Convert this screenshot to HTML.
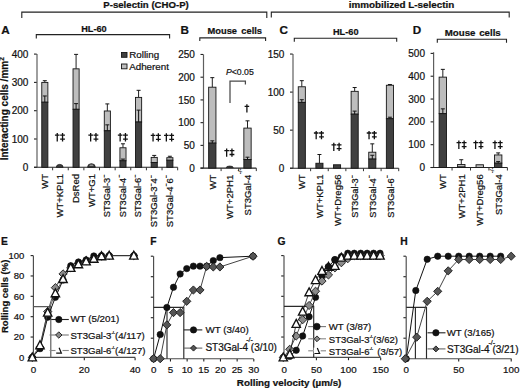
<!DOCTYPE html>
<html><head><meta charset="utf-8"><style>
html,body{margin:0;padding:0;background:#fff;overflow:hidden}
svg{display:block;font-family:"Liberation Sans", sans-serif}
text{stroke:#111;stroke-width:0.22px;paint-order:stroke}
</style></head><body>
<svg width="520" height="390" viewBox="0 0 520 390">
<rect width="520" height="390" fill="#fff"/>
<text x="103.30" y="7.90" font-size="9.3" text-anchor="start" fill="#111" font-weight="bold" textLength="85.5" lengthAdjust="spacingAndGlyphs">P-selectin (CHO-P)</text>
<polyline points="21.80,18.10 21.80,12.10 266.80,12.10 266.80,18.10" fill="none" stroke="#222" stroke-width="1.1"/>
<text x="348.70" y="7.90" font-size="9.3" text-anchor="start" fill="#111" font-weight="bold" textLength="105.5" lengthAdjust="spacingAndGlyphs">immobilized L-selectin</text>
<polyline points="271.30,17.60 271.30,12.10 509.20,12.10 509.20,17.60" fill="none" stroke="#222" stroke-width="1.1"/>
<text x="1.20" y="33.60" font-size="11.7" text-anchor="start" fill="#111" font-weight="bold">A</text>
<text x="180.60" y="33.60" font-size="11.7" text-anchor="start" fill="#111" font-weight="bold">B</text>
<text x="279.40" y="33.60" font-size="11.7" text-anchor="start" fill="#111" font-weight="bold">C</text>
<text x="412.80" y="33.60" font-size="11.7" text-anchor="start" fill="#111" font-weight="bold">D</text>
<text x="1.00" y="244.80" font-size="10.3" text-anchor="start" fill="#111" font-weight="bold">E</text>
<text x="150.20" y="244.80" font-size="10.3" text-anchor="start" fill="#111" font-weight="bold">F</text>
<text x="277.40" y="244.80" font-size="10.3" text-anchor="start" fill="#111" font-weight="bold">G</text>
<text x="400.30" y="244.80" font-size="10.3" text-anchor="start" fill="#111" font-weight="bold">H</text>
<text x="81.20" y="31.50" font-size="9.3" text-anchor="start" fill="#111" font-weight="bold" textLength="25.5" lengthAdjust="spacingAndGlyphs">HL-60</text>
<polyline points="36.30,38.60 36.30,34.60 169.60,34.60 169.60,38.60" fill="none" stroke="#222" stroke-width="1.1"/>
<text x="207.60" y="33.70" font-size="9.3" text-anchor="start" fill="#111" font-weight="bold" style="word-spacing:1.7px">Mouse cells</text>
<polyline points="199.80,40.90 199.80,37.90 265.60,37.90 265.60,40.90" fill="none" stroke="#222" stroke-width="1.1"/>
<text x="333.00" y="35.10" font-size="9.3" text-anchor="start" fill="#111" font-weight="bold" textLength="25.5" lengthAdjust="spacingAndGlyphs">HL-60</text>
<polyline points="294.30,41.80 294.30,38.30 396.70,38.30 396.70,41.80" fill="none" stroke="#222" stroke-width="1.1"/>
<text x="444.80" y="35.80" font-size="9.7" text-anchor="start" fill="#111" font-weight="bold" style="word-spacing:1.0px">Mouse cells</text>
<polyline points="437.30,42.70 437.30,39.20 506.50,39.20 506.50,42.70" fill="none" stroke="#222" stroke-width="1.1"/>
<line x1="37.00" y1="54.00" x2="37.00" y2="167.30" stroke="#5e5e5e" stroke-width="1.2"/>
<line x1="34.00" y1="167.30" x2="36.70" y2="167.30" stroke="#222" stroke-width="1.1"/>
<text x="28.40" y="170.90" font-size="10" text-anchor="end" fill="#111">0</text>
<line x1="34.00" y1="139.00" x2="36.70" y2="139.00" stroke="#222" stroke-width="1.1"/>
<text x="28.40" y="142.60" font-size="10" text-anchor="end" fill="#111">100</text>
<line x1="34.00" y1="110.70" x2="36.70" y2="110.70" stroke="#222" stroke-width="1.1"/>
<text x="28.40" y="114.30" font-size="10" text-anchor="end" fill="#111">200</text>
<line x1="34.00" y1="82.40" x2="36.70" y2="82.40" stroke="#222" stroke-width="1.1"/>
<text x="28.40" y="86.00" font-size="10" text-anchor="end" fill="#111">300</text>
<line x1="34.00" y1="54.10" x2="36.70" y2="54.10" stroke="#222" stroke-width="1.1"/>
<text x="28.40" y="57.70" font-size="10" text-anchor="end" fill="#111">400</text>
<line x1="34.00" y1="167.30" x2="177.67" y2="167.30" stroke="#222" stroke-width="1.1"/>
<line x1="52.63" y1="167.30" x2="52.63" y2="170.30" stroke="#333" stroke-width="1.0"/>
<line x1="68.26" y1="167.30" x2="68.26" y2="170.30" stroke="#333" stroke-width="1.0"/>
<line x1="83.89" y1="167.30" x2="83.89" y2="170.30" stroke="#333" stroke-width="1.0"/>
<line x1="99.52" y1="167.30" x2="99.52" y2="170.30" stroke="#333" stroke-width="1.0"/>
<line x1="115.15" y1="167.30" x2="115.15" y2="170.30" stroke="#333" stroke-width="1.0"/>
<line x1="130.78" y1="167.30" x2="130.78" y2="170.30" stroke="#333" stroke-width="1.0"/>
<line x1="146.41" y1="167.30" x2="146.41" y2="170.30" stroke="#333" stroke-width="1.0"/>
<line x1="162.04" y1="167.30" x2="162.04" y2="170.30" stroke="#333" stroke-width="1.0"/>
<line x1="177.67" y1="167.30" x2="177.67" y2="170.30" stroke="#333" stroke-width="1.0"/>
<line x1="44.81" y1="80.70" x2="44.81" y2="82.40" stroke="#151515" stroke-width="0.95"/>
<line x1="42.81" y1="80.70" x2="46.81" y2="80.70" stroke="#151515" stroke-width="1.0"/>
<rect x="41.77" y="82.40" width="6.1" height="19.81" fill="#bdbdbd" stroke="#151515" stroke-width="0.9"/>
<rect x="41.77" y="102.21" width="6.1" height="65.09" fill="#404040" stroke="#151515" stroke-width="0.9"/>
<line x1="44.81" y1="95.98" x2="44.81" y2="102.21" stroke="#151515" stroke-width="1.0"/>
<line x1="42.81" y1="95.98" x2="46.81" y2="95.98" stroke="#151515" stroke-width="1.0"/>
<line x1="76.08" y1="54.38" x2="76.08" y2="68.82" stroke="#151515" stroke-width="0.95"/>
<line x1="74.08" y1="54.38" x2="78.08" y2="54.38" stroke="#151515" stroke-width="1.0"/>
<rect x="73.03" y="68.82" width="6.1" height="40.47" fill="#bdbdbd" stroke="#151515" stroke-width="0.9"/>
<rect x="73.03" y="109.29" width="6.1" height="58.01" fill="#404040" stroke="#151515" stroke-width="0.9"/>
<line x1="76.08" y1="103.63" x2="76.08" y2="109.29" stroke="#151515" stroke-width="1.0"/>
<line x1="74.08" y1="103.63" x2="78.08" y2="103.63" stroke="#151515" stroke-width="1.0"/>
<line x1="107.34" y1="103.91" x2="107.34" y2="110.98" stroke="#151515" stroke-width="0.95"/>
<line x1="105.34" y1="103.91" x2="109.34" y2="103.91" stroke="#151515" stroke-width="1.0"/>
<rect x="104.29" y="110.98" width="6.1" height="19.81" fill="#bdbdbd" stroke="#151515" stroke-width="0.9"/>
<rect x="104.29" y="130.79" width="6.1" height="36.51" fill="#404040" stroke="#151515" stroke-width="0.9"/>
<line x1="107.34" y1="124.85" x2="107.34" y2="130.79" stroke="#151515" stroke-width="1.0"/>
<line x1="105.34" y1="124.85" x2="109.34" y2="124.85" stroke="#151515" stroke-width="1.0"/>
<line x1="122.97" y1="143.81" x2="122.97" y2="147.77" stroke="#151515" stroke-width="0.95"/>
<line x1="120.97" y1="143.81" x2="124.97" y2="143.81" stroke="#151515" stroke-width="1.0"/>
<rect x="119.92" y="147.77" width="6.1" height="13.02" fill="#bdbdbd" stroke="#151515" stroke-width="0.9"/>
<rect x="119.92" y="160.79" width="6.1" height="6.51" fill="#404040" stroke="#151515" stroke-width="0.9"/>
<line x1="122.97" y1="159.09" x2="122.97" y2="160.79" stroke="#151515" stroke-width="1.0"/>
<line x1="120.97" y1="159.09" x2="124.97" y2="159.09" stroke="#151515" stroke-width="1.0"/>
<line x1="138.59" y1="90.32" x2="138.59" y2="97.40" stroke="#151515" stroke-width="0.95"/>
<line x1="136.59" y1="90.32" x2="140.59" y2="90.32" stroke="#151515" stroke-width="1.0"/>
<rect x="135.54" y="97.40" width="6.1" height="24.62" fill="#bdbdbd" stroke="#151515" stroke-width="0.9"/>
<rect x="135.54" y="122.02" width="6.1" height="45.28" fill="#404040" stroke="#151515" stroke-width="0.9"/>
<line x1="138.59" y1="110.13" x2="138.59" y2="122.02" stroke="#151515" stroke-width="1.0"/>
<line x1="136.59" y1="110.13" x2="140.59" y2="110.13" stroke="#151515" stroke-width="1.0"/>
<line x1="154.23" y1="155.41" x2="154.23" y2="157.40" stroke="#151515" stroke-width="0.95"/>
<line x1="152.23" y1="155.41" x2="156.23" y2="155.41" stroke="#151515" stroke-width="1.0"/>
<rect x="151.18" y="157.40" width="6.1" height="5.09" fill="#bdbdbd" stroke="#151515" stroke-width="0.9"/>
<rect x="151.18" y="162.49" width="6.1" height="4.81" fill="#404040" stroke="#151515" stroke-width="0.9"/>
<line x1="169.86" y1="156.26" x2="169.86" y2="157.68" stroke="#151515" stroke-width="0.95"/>
<line x1="167.86" y1="156.26" x2="171.86" y2="156.26" stroke="#151515" stroke-width="1.0"/>
<rect x="166.81" y="157.68" width="6.1" height="2.55" fill="#bdbdbd" stroke="#151515" stroke-width="0.9"/>
<rect x="166.81" y="160.23" width="6.1" height="7.07" fill="#404040" stroke="#151515" stroke-width="0.9"/>
<text x="47.71" y="174.00" font-size="9.5" text-anchor="end" fill="#111" transform="rotate(-90 47.71 174.00)">WT</text>
<text x="63.34" y="174.00" font-size="9.5" text-anchor="end" fill="#111" transform="rotate(-90 63.34 174.00)">WT+KPL1</text>
<text x="78.98" y="174.00" font-size="9.5" text-anchor="end" fill="#111" transform="rotate(-90 78.98 174.00)">DsRed</text>
<text x="94.61" y="174.00" font-size="9.5" text-anchor="end" fill="#111" transform="rotate(-90 94.61 174.00)">WT+G1</text>
<text x="110.24" y="174.80" font-size="9.2" text-anchor="end" fill="#111" transform="rotate(-90 110.24 174.80)">ST3Gal-3<tspan font-size="5.2" font-weight="bold" dy="-4.6">−</tspan></text>
<text x="125.87" y="174.80" font-size="9.2" text-anchor="end" fill="#111" transform="rotate(-90 125.87 174.80)">ST3Gal-4<tspan font-size="5.2" font-weight="bold" dy="-4.6">−</tspan></text>
<text x="141.50" y="174.80" font-size="9.2" text-anchor="end" fill="#111" transform="rotate(-90 141.50 174.80)">ST3Gal-6<tspan font-size="5.2" font-weight="bold" dy="-4.6">−</tspan></text>
<text x="157.13" y="175.20" font-size="9.5" text-anchor="end" fill="#111" transform="rotate(-90 157.13 175.20)">ST3Gal-3<tspan font-size="5.2" font-weight="bold" dy="-4.6">−</tspan><tspan dy="4.6">4</tspan><tspan font-size="5.2" font-weight="bold" dy="-4.6">−</tspan></text>
<text x="172.76" y="175.20" font-size="9.5" text-anchor="end" fill="#111" transform="rotate(-90 172.76 175.20)">ST3Gal-4<tspan font-size="5.2" font-weight="bold" dy="-4.6">−</tspan><tspan dy="4.6">6</tspan><tspan font-size="5.2" font-weight="bold" dy="-4.6">−</tspan></text>
<path d="M57.25,133.10L57.25,141.40M54.95,135.20L59.55,135.20" stroke="#111" stroke-width="1.3" fill="none"/>
<path d="M62.55,133.10L62.55,141.40M60.15,135.20L64.95,135.20M60.15,139.10L64.95,139.10" stroke="#111" stroke-width="1.3" fill="none"/>
<path d="M90.65,133.10L90.65,141.40M88.35,135.20L92.95,135.20" stroke="#111" stroke-width="1.3" fill="none"/>
<path d="M95.95,133.10L95.95,141.40M93.55,135.20L98.35,135.20M93.55,139.10L98.35,139.10" stroke="#111" stroke-width="1.3" fill="none"/>
<path d="M120.15,133.10L120.15,141.40M117.85,135.20L122.45,135.20" stroke="#111" stroke-width="1.3" fill="none"/>
<path d="M125.45,133.10L125.45,141.40M123.05,135.20L127.85,135.20M123.05,139.10L127.85,139.10" stroke="#111" stroke-width="1.3" fill="none"/>
<path d="M153.05,133.30L153.05,141.60M150.75,135.40L155.35,135.40" stroke="#111" stroke-width="1.3" fill="none"/>
<path d="M158.35,133.30L158.35,141.60M155.95,135.40L160.75,135.40M155.95,139.30L160.75,139.30" stroke="#111" stroke-width="1.3" fill="none"/>
<path d="M166.35,133.30L166.35,141.60M164.05,135.40L168.65,135.40" stroke="#111" stroke-width="1.3" fill="none"/>
<path d="M171.65,133.30L171.65,141.60M169.25,135.40L174.05,135.40M169.25,139.30L174.05,139.30" stroke="#111" stroke-width="1.3" fill="none"/>
<line x1="203.50" y1="54.40" x2="203.50" y2="168.10" stroke="#5e5e5e" stroke-width="1.2"/>
<line x1="200.50" y1="168.10" x2="203.20" y2="168.10" stroke="#222" stroke-width="1.1"/>
<text x="194.90" y="171.70" font-size="10" text-anchor="end" fill="#111">0</text>
<line x1="200.50" y1="145.38" x2="203.20" y2="145.38" stroke="#222" stroke-width="1.1"/>
<text x="194.90" y="148.97" font-size="10" text-anchor="end" fill="#111">50</text>
<line x1="200.50" y1="122.65" x2="203.20" y2="122.65" stroke="#222" stroke-width="1.1"/>
<text x="194.90" y="126.25" font-size="10" text-anchor="end" fill="#111">100</text>
<line x1="200.50" y1="99.92" x2="203.20" y2="99.92" stroke="#222" stroke-width="1.1"/>
<text x="194.90" y="103.52" font-size="10" text-anchor="end" fill="#111">150</text>
<line x1="200.50" y1="77.20" x2="203.20" y2="77.20" stroke="#222" stroke-width="1.1"/>
<text x="194.90" y="80.80" font-size="10" text-anchor="end" fill="#111">200</text>
<line x1="200.50" y1="54.47" x2="203.20" y2="54.47" stroke="#222" stroke-width="1.1"/>
<text x="194.90" y="58.07" font-size="10" text-anchor="end" fill="#111">250</text>
<line x1="200.50" y1="168.10" x2="256.30" y2="168.10" stroke="#222" stroke-width="1.1"/>
<line x1="221.10" y1="168.10" x2="221.10" y2="171.10" stroke="#333" stroke-width="1.0"/>
<line x1="238.70" y1="168.10" x2="238.70" y2="171.10" stroke="#333" stroke-width="1.0"/>
<line x1="256.30" y1="168.10" x2="256.30" y2="171.10" stroke="#333" stroke-width="1.0"/>
<line x1="212.30" y1="77.65" x2="212.30" y2="87.20" stroke="#151515" stroke-width="0.95"/>
<line x1="210.30" y1="77.65" x2="214.30" y2="77.65" stroke="#151515" stroke-width="1.0"/>
<rect x="208.65" y="87.20" width="7.3" height="55.90" fill="#bdbdbd" stroke="#151515" stroke-width="0.9"/>
<rect x="208.65" y="143.10" width="7.3" height="25.00" fill="#404040" stroke="#151515" stroke-width="0.9"/>
<line x1="212.30" y1="140.83" x2="212.30" y2="143.10" stroke="#151515" stroke-width="1.0"/>
<line x1="210.30" y1="140.83" x2="214.30" y2="140.83" stroke="#151515" stroke-width="1.0"/>
<line x1="247.50" y1="120.83" x2="247.50" y2="128.10" stroke="#151515" stroke-width="0.95"/>
<line x1="245.50" y1="120.83" x2="249.50" y2="120.83" stroke="#151515" stroke-width="1.0"/>
<rect x="243.85" y="128.10" width="7.3" height="31.36" fill="#bdbdbd" stroke="#151515" stroke-width="0.9"/>
<rect x="243.85" y="159.46" width="7.3" height="8.64" fill="#404040" stroke="#151515" stroke-width="0.9"/>
<line x1="247.50" y1="157.19" x2="247.50" y2="159.46" stroke="#151515" stroke-width="1.0"/>
<line x1="245.50" y1="157.19" x2="249.50" y2="157.19" stroke="#151515" stroke-width="1.0"/>
<text x="215.60" y="174.80" font-size="9.5" text-anchor="end" fill="#111" transform="rotate(-90 215.60 174.80)">WT</text>
<text x="233.20" y="174.80" font-size="9.5" text-anchor="end" fill="#111" transform="rotate(-90 233.20 174.80)">WT+2PH1</text>
<text x="250.80" y="174.80" font-size="9.5" text-anchor="end" fill="#111" transform="rotate(-90 250.80 174.80)">ST3Gal-4</text>
<text x="242.00" y="168.40" font-size="6.2" text-anchor="end" fill="#111" transform="rotate(-90 242.00 168.40)">-/-</text>
<path d="M226.65,148.50L226.65,156.80M224.35,150.60L228.95,150.60" stroke="#111" stroke-width="1.3" fill="none"/>
<path d="M231.95,148.50L231.95,156.80M229.55,150.60L234.35,150.60M229.55,154.50L234.35,154.50" stroke="#111" stroke-width="1.3" fill="none"/>
<path d="M246.90,104.20L246.90,112.50M244.60,106.30L249.20,106.30" stroke="#111" stroke-width="1.3" fill="none"/>
<line x1="293.00" y1="54.00" x2="293.00" y2="168.20" stroke="#5e5e5e" stroke-width="1.2"/>
<line x1="290.00" y1="168.20" x2="292.70" y2="168.20" stroke="#222" stroke-width="1.1"/>
<text x="284.40" y="171.80" font-size="10" text-anchor="end" fill="#111">0</text>
<line x1="290.00" y1="130.15" x2="292.70" y2="130.15" stroke="#222" stroke-width="1.1"/>
<text x="284.40" y="133.75" font-size="10" text-anchor="end" fill="#111">50</text>
<line x1="290.00" y1="92.10" x2="292.70" y2="92.10" stroke="#222" stroke-width="1.1"/>
<text x="284.40" y="95.70" font-size="10" text-anchor="end" fill="#111">100</text>
<line x1="290.00" y1="54.05" x2="292.70" y2="54.05" stroke="#222" stroke-width="1.1"/>
<text x="284.40" y="57.65" font-size="10" text-anchor="end" fill="#111">150</text>
<line x1="290.00" y1="168.20" x2="398.72" y2="168.20" stroke="#222" stroke-width="1.1"/>
<line x1="310.62" y1="168.20" x2="310.62" y2="171.20" stroke="#333" stroke-width="1.0"/>
<line x1="328.24" y1="168.20" x2="328.24" y2="171.20" stroke="#333" stroke-width="1.0"/>
<line x1="345.86" y1="168.20" x2="345.86" y2="171.20" stroke="#333" stroke-width="1.0"/>
<line x1="363.48" y1="168.20" x2="363.48" y2="171.20" stroke="#333" stroke-width="1.0"/>
<line x1="381.10" y1="168.20" x2="381.10" y2="171.20" stroke="#333" stroke-width="1.0"/>
<line x1="398.72" y1="168.20" x2="398.72" y2="171.20" stroke="#333" stroke-width="1.0"/>
<line x1="301.81" y1="80.68" x2="301.81" y2="86.77" stroke="#151515" stroke-width="0.95"/>
<line x1="299.81" y1="80.68" x2="303.81" y2="80.68" stroke="#151515" stroke-width="1.0"/>
<rect x="298.26" y="86.77" width="7.1" height="15.60" fill="#bdbdbd" stroke="#151515" stroke-width="0.9"/>
<rect x="298.26" y="102.37" width="7.1" height="65.83" fill="#404040" stroke="#151515" stroke-width="0.9"/>
<line x1="301.81" y1="99.71" x2="301.81" y2="102.37" stroke="#151515" stroke-width="1.0"/>
<line x1="299.81" y1="99.71" x2="303.81" y2="99.71" stroke="#151515" stroke-width="1.0"/>
<line x1="319.43" y1="154.50" x2="319.43" y2="163.25" stroke="#151515" stroke-width="0.95"/>
<line x1="317.43" y1="154.50" x2="321.43" y2="154.50" stroke="#151515" stroke-width="1.0"/>
<rect x="315.88" y="163.25" width="7.1" height="4.95" fill="#404040" stroke="#151515" stroke-width="0.9"/>
<rect x="333.50" y="164.78" width="7.1" height="3.42" fill="#404040" stroke="#151515" stroke-width="0.9"/>
<line x1="354.67" y1="87.53" x2="354.67" y2="91.34" stroke="#151515" stroke-width="0.95"/>
<line x1="352.67" y1="87.53" x2="356.67" y2="87.53" stroke="#151515" stroke-width="1.0"/>
<rect x="351.12" y="91.34" width="7.1" height="22.83" fill="#bdbdbd" stroke="#151515" stroke-width="0.9"/>
<rect x="351.12" y="114.17" width="7.1" height="54.03" fill="#404040" stroke="#151515" stroke-width="0.9"/>
<line x1="354.67" y1="111.12" x2="354.67" y2="114.17" stroke="#151515" stroke-width="1.0"/>
<line x1="352.67" y1="111.12" x2="356.67" y2="111.12" stroke="#151515" stroke-width="1.0"/>
<line x1="372.29" y1="143.85" x2="372.29" y2="152.22" stroke="#151515" stroke-width="0.95"/>
<line x1="370.29" y1="143.85" x2="374.29" y2="143.85" stroke="#151515" stroke-width="1.0"/>
<rect x="368.74" y="152.22" width="7.1" height="6.85" fill="#bdbdbd" stroke="#151515" stroke-width="0.9"/>
<rect x="368.74" y="159.07" width="7.1" height="9.13" fill="#404040" stroke="#151515" stroke-width="0.9"/>
<line x1="372.29" y1="155.26" x2="372.29" y2="159.07" stroke="#151515" stroke-width="1.0"/>
<line x1="370.29" y1="155.26" x2="374.29" y2="155.26" stroke="#151515" stroke-width="1.0"/>
<line x1="389.91" y1="84.49" x2="389.91" y2="85.25" stroke="#151515" stroke-width="0.95"/>
<line x1="387.91" y1="84.49" x2="391.91" y2="84.49" stroke="#151515" stroke-width="1.0"/>
<rect x="386.36" y="85.25" width="7.1" height="33.48" fill="#bdbdbd" stroke="#151515" stroke-width="0.9"/>
<rect x="386.36" y="118.73" width="7.1" height="49.47" fill="#404040" stroke="#151515" stroke-width="0.9"/>
<line x1="389.91" y1="117.21" x2="389.91" y2="118.73" stroke="#151515" stroke-width="1.0"/>
<line x1="387.91" y1="117.21" x2="391.91" y2="117.21" stroke="#151515" stroke-width="1.0"/>
<text x="305.41" y="174.50" font-size="9.5" text-anchor="end" fill="#111" transform="rotate(-90 305.41 174.50)">WT</text>
<text x="323.03" y="174.50" font-size="9.5" text-anchor="end" fill="#111" transform="rotate(-90 323.03 174.50)">WT+KPL1</text>
<text x="340.65" y="174.50" font-size="9.5" text-anchor="end" fill="#111" transform="rotate(-90 340.65 174.50)">WT+Dreg56</text>
<text x="358.27" y="175.30" font-size="9.2" text-anchor="end" fill="#111" transform="rotate(-90 358.27 175.30)">ST3Gal-3<tspan font-size="5.2" font-weight="bold" dy="-4.6">−</tspan></text>
<text x="375.89" y="175.30" font-size="9.2" text-anchor="end" fill="#111" transform="rotate(-90 375.89 175.30)">ST3Gal-4<tspan font-size="5.2" font-weight="bold" dy="-4.6">−</tspan></text>
<text x="393.51" y="175.30" font-size="9.2" text-anchor="end" fill="#111" transform="rotate(-90 393.51 175.30)">ST3Gal-6<tspan font-size="5.2" font-weight="bold" dy="-4.6">−</tspan></text>
<path d="M316.18,130.90L316.18,139.20M313.88,133.00L318.48,133.00" stroke="#111" stroke-width="1.3" fill="none"/>
<path d="M321.48,130.90L321.48,139.20M319.08,133.00L323.88,133.00M319.08,136.90L323.88,136.90" stroke="#111" stroke-width="1.3" fill="none"/>
<path d="M333.80,142.70L333.80,151.00M331.50,144.80L336.10,144.80" stroke="#111" stroke-width="1.3" fill="none"/>
<path d="M339.10,142.70L339.10,151.00M336.70,144.80L341.50,144.80M336.70,148.70L341.50,148.70" stroke="#111" stroke-width="1.3" fill="none"/>
<path d="M369.04,130.90L369.04,139.20M366.74,133.00L371.34,133.00" stroke="#111" stroke-width="1.3" fill="none"/>
<path d="M374.34,130.90L374.34,139.20M371.94,133.00L376.74,133.00M371.94,136.90L376.74,136.90" stroke="#111" stroke-width="1.3" fill="none"/>
<line x1="433.60" y1="52.20" x2="433.60" y2="167.50" stroke="#5e5e5e" stroke-width="1.2"/>
<line x1="430.60" y1="167.50" x2="433.30" y2="167.50" stroke="#222" stroke-width="1.1"/>
<text x="425.00" y="171.10" font-size="10" text-anchor="end" fill="#111">0</text>
<line x1="430.60" y1="144.68" x2="433.30" y2="144.68" stroke="#222" stroke-width="1.1"/>
<text x="425.00" y="148.28" font-size="10" text-anchor="end" fill="#111">100</text>
<line x1="430.60" y1="121.86" x2="433.30" y2="121.86" stroke="#222" stroke-width="1.1"/>
<text x="425.00" y="125.46" font-size="10" text-anchor="end" fill="#111">200</text>
<line x1="430.60" y1="99.04" x2="433.30" y2="99.04" stroke="#222" stroke-width="1.1"/>
<text x="425.00" y="102.64" font-size="10" text-anchor="end" fill="#111">300</text>
<line x1="430.60" y1="76.22" x2="433.30" y2="76.22" stroke="#222" stroke-width="1.1"/>
<text x="425.00" y="79.82" font-size="10" text-anchor="end" fill="#111">400</text>
<line x1="430.60" y1="53.40" x2="433.30" y2="53.40" stroke="#222" stroke-width="1.1"/>
<text x="425.00" y="57.00" font-size="10" text-anchor="end" fill="#111">500</text>
<line x1="430.60" y1="167.50" x2="507.40" y2="167.50" stroke="#222" stroke-width="1.1"/>
<line x1="452.05" y1="167.50" x2="452.05" y2="170.50" stroke="#333" stroke-width="1.0"/>
<line x1="470.50" y1="167.50" x2="470.50" y2="170.50" stroke="#333" stroke-width="1.0"/>
<line x1="488.95" y1="167.50" x2="488.95" y2="170.50" stroke="#333" stroke-width="1.0"/>
<line x1="507.40" y1="167.50" x2="507.40" y2="170.50" stroke="#333" stroke-width="1.0"/>
<line x1="442.83" y1="69.37" x2="442.83" y2="77.13" stroke="#151515" stroke-width="0.95"/>
<line x1="440.83" y1="69.37" x2="444.83" y2="69.37" stroke="#151515" stroke-width="1.0"/>
<rect x="439.13" y="77.13" width="7.4" height="36.51" fill="#bdbdbd" stroke="#151515" stroke-width="0.9"/>
<rect x="439.13" y="113.64" width="7.4" height="53.86" fill="#404040" stroke="#151515" stroke-width="0.9"/>
<line x1="442.83" y1="108.85" x2="442.83" y2="113.64" stroke="#151515" stroke-width="1.0"/>
<line x1="440.83" y1="108.85" x2="444.83" y2="108.85" stroke="#151515" stroke-width="1.0"/>
<line x1="461.28" y1="159.74" x2="461.28" y2="164.53" stroke="#151515" stroke-width="0.95"/>
<line x1="459.28" y1="159.74" x2="463.28" y2="159.74" stroke="#151515" stroke-width="1.0"/>
<rect x="457.58" y="164.53" width="7.4" height="2.51" fill="#bdbdbd" stroke="#151515" stroke-width="0.9"/>
<rect x="457.58" y="167.04" width="7.4" height="0.46" fill="#404040" stroke="#151515" stroke-width="0.9"/>
<rect x="476.03" y="164.76" width="7.4" height="2.74" fill="#bdbdbd" stroke="#151515" stroke-width="0.9"/>
<line x1="498.18" y1="152.90" x2="498.18" y2="154.95" stroke="#151515" stroke-width="0.95"/>
<line x1="496.18" y1="152.90" x2="500.18" y2="152.90" stroke="#151515" stroke-width="1.0"/>
<rect x="494.48" y="154.95" width="7.4" height="8.22" fill="#bdbdbd" stroke="#151515" stroke-width="0.9"/>
<rect x="494.48" y="163.16" width="7.4" height="4.34" fill="#404040" stroke="#151515" stroke-width="0.9"/>
<line x1="498.18" y1="161.57" x2="498.18" y2="163.16" stroke="#151515" stroke-width="1.0"/>
<line x1="496.18" y1="161.57" x2="500.18" y2="161.57" stroke="#151515" stroke-width="1.0"/>
<text x="446.43" y="174.30" font-size="9.5" text-anchor="end" fill="#111" transform="rotate(-90 446.43 174.30)">WT</text>
<text x="464.88" y="174.30" font-size="9.5" text-anchor="end" fill="#111" transform="rotate(-90 464.88 174.30)">WT+2PH1</text>
<text x="483.33" y="174.30" font-size="9.5" text-anchor="end" fill="#111" transform="rotate(-90 483.33 174.30)">WT+Dreg56</text>
<text x="501.78" y="174.30" font-size="9.5" text-anchor="end" fill="#111" transform="rotate(-90 501.78 174.30)">ST3Gal-4</text>
<text x="494.50" y="167.40" font-size="6.2" text-anchor="end" fill="#111" transform="rotate(-90 494.50 167.40)">-/-</text>
<path d="M458.85,140.60L458.85,148.90M456.55,142.70L461.15,142.70" stroke="#111" stroke-width="1.3" fill="none"/>
<path d="M464.15,140.60L464.15,148.90M461.75,142.70L466.55,142.70M461.75,146.60L466.55,146.60" stroke="#111" stroke-width="1.3" fill="none"/>
<path d="M475.65,140.60L475.65,148.90M473.35,142.70L477.95,142.70" stroke="#111" stroke-width="1.3" fill="none"/>
<path d="M480.95,140.60L480.95,148.90M478.55,142.70L483.35,142.70M478.55,146.60L483.35,146.60" stroke="#111" stroke-width="1.3" fill="none"/>
<path d="M494.95,140.60L494.95,148.90M492.65,142.70L497.25,142.70" stroke="#111" stroke-width="1.3" fill="none"/>
<path d="M500.25,140.60L500.25,148.90M497.85,142.70L502.65,142.70M497.85,146.60L502.65,146.60" stroke="#111" stroke-width="1.3" fill="none"/>
<path d="M56.30,167.30A3.40,2.90 0 0 1 63.10,167.30Z" fill="#404040" stroke="#151515" stroke-width="0.8"/>
<path d="M87.60,167.30A3.85,3.60 0 0 1 95.30,167.30Z" fill="#404040" stroke="#151515" stroke-width="0.8"/>
<rect x="89.6" y="164.6" width="3.6" height="1.3" fill="#9a9a9a"/>
<path d="M226.30,167.60A3.45,1.50 0 0 1 233.20,167.60Z" fill="#404040" stroke="#151515" stroke-width="0.8"/>
<polyline points="230.00,103.00 230.00,81.20 245.40,81.20 245.40,84.40" fill="none" stroke="#4a4a4a" stroke-width="1.25"/>
<text x="226.00" y="75.30" font-size="9.4" text-anchor="start" fill="#111" textLength="27.8" lengthAdjust="spacingAndGlyphs"><tspan font-style="italic">P</tspan>&lt;0.05</text>
<text x="8.00" y="160.30" font-size="10" text-anchor="start" fill="#111" font-weight="bold" transform="rotate(-90 8.00 160.30)">Interacting cells /mm<tspan font-size="6.5" dy="-4">2</tspan></text>
<text x="7.90" y="333.00" font-size="9.5" text-anchor="start" fill="#111" font-weight="bold" transform="rotate(-90 7.90 333.00)">Rolling cells (%)</text>
<text x="236.80" y="386.30" font-size="9.6" text-anchor="start" fill="#111" font-weight="bold" textLength="104.6" lengthAdjust="spacingAndGlyphs">Rolling velocity (µm/s)</text>
<rect x="121.5" y="52.5" width="5.5" height="4.8" fill="#404040" stroke="#151515" stroke-width="0.9"/>
<rect x="121.5" y="64" width="5.5" height="4.8" fill="#bdbdbd" stroke="#151515" stroke-width="0.9"/>
<text x="129.20" y="58.30" font-size="9.8" text-anchor="start" fill="#111">Rolling</text>
<text x="129.20" y="69.80" font-size="9.8" text-anchor="start" fill="#111">Adherent</text>
<line x1="33.40" y1="255.60" x2="33.40" y2="357.40" stroke="#4a4a4a" stroke-width="1.15"/>
<line x1="30.60" y1="357.40" x2="33.10" y2="357.40" stroke="#222" stroke-width="1.1"/>
<text x="24.40" y="360.80" font-size="9.5" text-anchor="end" fill="#111">0</text>
<line x1="30.60" y1="337.04" x2="33.10" y2="337.04" stroke="#222" stroke-width="1.1"/>
<text x="24.40" y="340.44" font-size="9.5" text-anchor="end" fill="#111">20</text>
<line x1="30.60" y1="316.68" x2="33.10" y2="316.68" stroke="#222" stroke-width="1.1"/>
<text x="24.40" y="320.08" font-size="9.5" text-anchor="end" fill="#111">40</text>
<line x1="30.60" y1="296.32" x2="33.10" y2="296.32" stroke="#222" stroke-width="1.1"/>
<text x="24.40" y="299.72" font-size="9.5" text-anchor="end" fill="#111">60</text>
<line x1="30.60" y1="275.96" x2="33.10" y2="275.96" stroke="#222" stroke-width="1.1"/>
<text x="24.40" y="279.36" font-size="9.5" text-anchor="end" fill="#111">80</text>
<line x1="30.60" y1="255.60" x2="33.10" y2="255.60" stroke="#222" stroke-width="1.1"/>
<text x="24.40" y="259.00" font-size="9.5" text-anchor="end" fill="#111">100</text>
<line x1="33.40" y1="357.40" x2="135.30" y2="357.40" stroke="#4a4a4a" stroke-width="1.15"/>
<line x1="33.50" y1="357.70" x2="33.50" y2="360.20" stroke="#222" stroke-width="1.1"/>
<text x="33.50" y="372.60" font-size="9.8" text-anchor="middle" fill="#111">0</text>
<line x1="84.30" y1="357.70" x2="84.30" y2="360.20" stroke="#222" stroke-width="1.1"/>
<text x="84.30" y="372.60" font-size="9.8" text-anchor="middle" fill="#111">20</text>
<line x1="135.10" y1="357.70" x2="135.10" y2="360.20" stroke="#222" stroke-width="1.1"/>
<text x="135.10" y="372.60" font-size="9.8" text-anchor="middle" fill="#111">40</text>
<polyline points="33.40,306.60 50.80,306.60 50.80,357.40" fill="none" stroke="#5a5a5a" stroke-width="1.15"/>
<polyline points="32.30,357.40 39.99,347.22 47.68,311.59 55.37,287.67 63.06,273.92 70.75,267.82 78.44,263.24 86.13,260.69 93.82,258.14 101.51,256.11 109.20,255.60 133.81,255.60" fill="none" stroke="#555" stroke-width="1.0"/>
<polygon points="32.30,353.30 36.40,357.40 32.30,361.50 28.20,357.40" fill="#8a8a8a" stroke="#1a1a1a" stroke-width="0.9"/>
<polygon points="39.99,343.12 44.09,347.22 39.99,351.32 35.89,347.22" fill="#8a8a8a" stroke="#1a1a1a" stroke-width="0.9"/>
<polygon points="47.68,307.49 51.78,311.59 47.68,315.69 43.58,311.59" fill="#8a8a8a" stroke="#1a1a1a" stroke-width="0.9"/>
<polygon points="55.37,283.57 59.47,287.67 55.37,291.77 51.27,287.67" fill="#8a8a8a" stroke="#1a1a1a" stroke-width="0.9"/>
<polygon points="63.06,269.82 67.16,273.92 63.06,278.02 58.96,273.92" fill="#8a8a8a" stroke="#1a1a1a" stroke-width="0.9"/>
<polygon points="70.75,263.72 74.85,267.82 70.75,271.92 66.65,267.82" fill="#8a8a8a" stroke="#1a1a1a" stroke-width="0.9"/>
<polygon points="78.44,259.13 82.54,263.24 78.44,267.34 74.34,263.24" fill="#8a8a8a" stroke="#1a1a1a" stroke-width="0.9"/>
<polygon points="86.13,256.59 90.23,260.69 86.13,264.79 82.03,260.69" fill="#8a8a8a" stroke="#1a1a1a" stroke-width="0.9"/>
<polygon points="93.82,254.04 97.92,258.14 93.82,262.25 89.72,258.14" fill="#8a8a8a" stroke="#1a1a1a" stroke-width="0.9"/>
<polygon points="101.51,252.01 105.61,256.11 101.51,260.21 97.41,256.11" fill="#8a8a8a" stroke="#1a1a1a" stroke-width="0.9"/>
<polygon points="109.20,251.50 113.30,255.60 109.20,259.70 105.10,255.60" fill="#8a8a8a" stroke="#1a1a1a" stroke-width="0.9"/>
<polygon points="133.81,251.50 137.91,255.60 133.81,259.70 129.71,255.60" fill="#8a8a8a" stroke="#1a1a1a" stroke-width="0.9"/>
<polyline points="32.30,357.40 39.99,348.65 47.68,317.19 55.37,297.34 63.06,280.03 70.75,265.78 78.44,262.01 86.13,259.98 93.82,256.01 101.51,255.60 109.20,255.60 133.81,255.60" fill="none" stroke="#111" stroke-width="1.0"/>
<circle cx="32.30" cy="357.40" r="3.2" fill="#111" stroke="#111" stroke-width="0.6"/>
<circle cx="39.99" cy="348.65" r="3.2" fill="#111" stroke="#111" stroke-width="0.6"/>
<circle cx="47.68" cy="317.19" r="3.2" fill="#111" stroke="#111" stroke-width="0.6"/>
<circle cx="55.37" cy="297.34" r="3.2" fill="#111" stroke="#111" stroke-width="0.6"/>
<circle cx="63.06" cy="280.03" r="3.2" fill="#111" stroke="#111" stroke-width="0.6"/>
<circle cx="70.75" cy="265.78" r="3.2" fill="#111" stroke="#111" stroke-width="0.6"/>
<circle cx="78.44" cy="262.01" r="3.2" fill="#111" stroke="#111" stroke-width="0.6"/>
<circle cx="86.13" cy="259.98" r="3.2" fill="#111" stroke="#111" stroke-width="0.6"/>
<circle cx="93.82" cy="256.01" r="3.2" fill="#111" stroke="#111" stroke-width="0.6"/>
<circle cx="101.51" cy="255.60" r="3.2" fill="#111" stroke="#111" stroke-width="0.6"/>
<circle cx="109.20" cy="255.60" r="3.2" fill="#111" stroke="#111" stroke-width="0.6"/>
<circle cx="133.81" cy="255.60" r="3.2" fill="#111" stroke="#111" stroke-width="0.6"/>
<polyline points="32.30,357.40 39.99,345.18 47.68,312.61 55.37,293.27 63.06,279.01 70.75,267.82 78.44,264.25 86.13,261.30 93.82,258.76 101.51,256.21 109.20,255.60 133.81,255.60" fill="none" stroke="#444" stroke-width="0.8"/>
<polygon points="32.30,353.00 36.48,360.92 28.12,360.92" fill="#fff" stroke="#111" stroke-width="1.35"/>
<polygon points="39.99,340.78 44.17,348.70 35.81,348.70" fill="#fff" stroke="#111" stroke-width="1.35"/>
<polygon points="47.68,308.21 51.86,316.13 43.50,316.13" fill="#fff" stroke="#111" stroke-width="1.35"/>
<polygon points="55.37,288.87 59.55,296.79 51.19,296.79" fill="#fff" stroke="#111" stroke-width="1.35"/>
<polygon points="63.06,274.61 67.24,282.53 58.88,282.53" fill="#fff" stroke="#111" stroke-width="1.35"/>
<polygon points="70.75,263.42 74.93,271.34 66.57,271.34" fill="#fff" stroke="#111" stroke-width="1.35"/>
<polygon points="78.44,259.85 82.62,267.77 74.26,267.77" fill="#fff" stroke="#111" stroke-width="1.35"/>
<polygon points="86.13,256.90 90.31,264.82 81.95,264.82" fill="#fff" stroke="#111" stroke-width="1.35"/>
<polygon points="93.82,254.36 98.00,262.28 89.64,262.28" fill="#fff" stroke="#111" stroke-width="1.35"/>
<polygon points="101.51,251.81 105.69,259.73 97.33,259.73" fill="#fff" stroke="#111" stroke-width="1.35"/>
<polygon points="109.20,251.20 113.38,259.12 105.02,259.12" fill="#fff" stroke="#111" stroke-width="1.35"/>
<polygon points="133.81,251.20 137.99,259.12 129.63,259.12" fill="#fff" stroke="#111" stroke-width="1.35"/>
<line x1="51.20" y1="319.50" x2="68.80" y2="319.50" stroke="#222" stroke-width="1.1"/>
<circle cx="58.80" cy="319.50" r="3.2" fill="#111" stroke="#111" stroke-width="0.6"/>
<line x1="49.60" y1="335.00" x2="68.80" y2="335.00" stroke="#777" stroke-width="1.1"/>
<polygon points="58.80,331.80 62.00,335.00 58.80,338.20 55.60,335.00" fill="#8a8a8a" stroke="#1a1a1a" stroke-width="0.9"/>
<line x1="49.60" y1="350.50" x2="68.80" y2="350.50" stroke="#888" stroke-width="1.1"/>
<rect x="55.50" y="347.30" width="7" height="6.4" fill="#fff"/>
<path d="M59.10,347.70L61.40,353.20L56.20,353.20" fill="none" stroke="#111" stroke-width="1.2"/>
<text x="70.40" y="322.40" font-size="9.8" text-anchor="start" fill="#111">WT (5/201)</text>
<text x="70.40" y="338.60" font-size="9.6" text-anchor="start" fill="#111">ST3Gal-3<tspan font-size="3.8" font-weight="bold" dy="-4.6">-/-</tspan><tspan dy="4.6">(4/117)</tspan></text>
<text x="70.40" y="353.90" font-size="9.6" text-anchor="start" fill="#111">ST3Gal-6<tspan font-size="3.8" font-weight="bold" dy="-4.6">-/-</tspan><tspan dy="4.6">(4/127)</tspan></text>
<line x1="153.60" y1="256.20" x2="153.60" y2="358.70" stroke="#4a4a4a" stroke-width="1.15"/>
<line x1="150.80" y1="358.70" x2="153.30" y2="358.70" stroke="#222" stroke-width="1.1"/>
<line x1="150.80" y1="338.20" x2="153.30" y2="338.20" stroke="#222" stroke-width="1.1"/>
<line x1="150.80" y1="317.70" x2="153.30" y2="317.70" stroke="#222" stroke-width="1.1"/>
<line x1="150.80" y1="297.20" x2="153.30" y2="297.20" stroke="#222" stroke-width="1.1"/>
<line x1="150.80" y1="276.70" x2="153.30" y2="276.70" stroke="#222" stroke-width="1.1"/>
<line x1="150.80" y1="256.20" x2="153.30" y2="256.20" stroke="#222" stroke-width="1.1"/>
<line x1="153.60" y1="358.70" x2="253.80" y2="358.70" stroke="#4a4a4a" stroke-width="1.15"/>
<line x1="153.80" y1="359.00" x2="153.80" y2="361.50" stroke="#222" stroke-width="1.1"/>
<text x="153.80" y="372.60" font-size="9.8" text-anchor="middle" fill="#111">0</text>
<line x1="170.47" y1="359.00" x2="170.47" y2="361.50" stroke="#222" stroke-width="1.1"/>
<text x="170.47" y="372.60" font-size="9.8" text-anchor="middle" fill="#111">5</text>
<line x1="187.13" y1="359.00" x2="187.13" y2="361.50" stroke="#222" stroke-width="1.1"/>
<text x="187.13" y="372.60" font-size="9.8" text-anchor="middle" fill="#111">10</text>
<line x1="203.80" y1="359.00" x2="203.80" y2="361.50" stroke="#222" stroke-width="1.1"/>
<text x="203.80" y="372.60" font-size="9.8" text-anchor="middle" fill="#111">15</text>
<line x1="220.47" y1="359.00" x2="220.47" y2="361.50" stroke="#222" stroke-width="1.1"/>
<text x="220.47" y="372.60" font-size="9.8" text-anchor="middle" fill="#111">20</text>
<line x1="237.14" y1="359.00" x2="237.14" y2="361.50" stroke="#222" stroke-width="1.1"/>
<text x="237.14" y="372.60" font-size="9.8" text-anchor="middle" fill="#111">25</text>
<line x1="253.80" y1="359.00" x2="253.80" y2="361.50" stroke="#222" stroke-width="1.1"/>
<text x="253.80" y="372.60" font-size="9.8" text-anchor="middle" fill="#111">30</text>
<polyline points="153.60,307.40 183.80,307.40 183.80,358.70" fill="none" stroke="#2a2a2a" stroke-width="1.15"/>
<line x1="167.00" y1="307.40" x2="167.00" y2="358.70" stroke="#2a2a2a" stroke-width="1.15"/>
<polyline points="153.60,358.70 160.23,334.51 166.86,307.45 173.49,287.26 180.12,273.93 186.75,268.60 193.38,266.14 200.01,266.14 206.64,266.14 213.27,260.61 219.90,257.63 253.05,256.20" fill="none" stroke="#111" stroke-width="1.0"/>
<circle cx="153.60" cy="358.70" r="3.2" fill="#111" stroke="#111" stroke-width="0.6"/>
<circle cx="160.23" cy="334.51" r="3.2" fill="#111" stroke="#111" stroke-width="0.6"/>
<circle cx="166.86" cy="307.45" r="3.2" fill="#111" stroke="#111" stroke-width="0.6"/>
<circle cx="173.49" cy="287.26" r="3.2" fill="#111" stroke="#111" stroke-width="0.6"/>
<circle cx="180.12" cy="273.93" r="3.2" fill="#111" stroke="#111" stroke-width="0.6"/>
<circle cx="186.75" cy="268.60" r="3.2" fill="#111" stroke="#111" stroke-width="0.6"/>
<circle cx="193.38" cy="266.14" r="3.2" fill="#111" stroke="#111" stroke-width="0.6"/>
<circle cx="200.01" cy="266.14" r="3.2" fill="#111" stroke="#111" stroke-width="0.6"/>
<circle cx="206.64" cy="266.14" r="3.2" fill="#111" stroke="#111" stroke-width="0.6"/>
<circle cx="213.27" cy="260.61" r="3.2" fill="#111" stroke="#111" stroke-width="0.6"/>
<circle cx="219.90" cy="257.63" r="3.2" fill="#111" stroke="#111" stroke-width="0.6"/>
<circle cx="253.05" cy="256.20" r="3.2" fill="#111" stroke="#111" stroke-width="0.6"/>
<polyline points="153.60,358.70 160.23,358.70 166.86,324.88 173.49,312.57 180.12,312.57 186.75,301.30 193.38,290.02 200.01,290.02 206.64,266.45 213.27,266.96 219.90,266.96 253.05,256.20" fill="none" stroke="#444" stroke-width="1.0"/>
<polygon points="153.60,354.60 157.70,358.70 153.60,362.80 149.50,358.70" fill="#555555" stroke="#1a1a1a" stroke-width="0.9"/>
<polygon points="160.23,354.60 164.33,358.70 160.23,362.80 156.13,358.70" fill="#555555" stroke="#1a1a1a" stroke-width="0.9"/>
<polygon points="166.86,320.77 170.96,324.88 166.86,328.98 162.76,324.88" fill="#555555" stroke="#1a1a1a" stroke-width="0.9"/>
<polygon points="173.49,308.47 177.59,312.57 173.49,316.68 169.39,312.57" fill="#555555" stroke="#1a1a1a" stroke-width="0.9"/>
<polygon points="180.12,308.47 184.22,312.57 180.12,316.68 176.02,312.57" fill="#555555" stroke="#1a1a1a" stroke-width="0.9"/>
<polygon points="186.75,297.20 190.85,301.30 186.75,305.40 182.65,301.30" fill="#555555" stroke="#1a1a1a" stroke-width="0.9"/>
<polygon points="193.38,285.92 197.48,290.02 193.38,294.12 189.28,290.02" fill="#555555" stroke="#1a1a1a" stroke-width="0.9"/>
<polygon points="200.01,285.92 204.11,290.02 200.01,294.12 195.91,290.02" fill="#555555" stroke="#1a1a1a" stroke-width="0.9"/>
<polygon points="206.64,262.35 210.74,266.45 206.64,270.55 202.54,266.45" fill="#555555" stroke="#1a1a1a" stroke-width="0.9"/>
<polygon points="213.27,262.86 217.37,266.96 213.27,271.06 209.17,266.96" fill="#555555" stroke="#1a1a1a" stroke-width="0.9"/>
<polygon points="219.90,262.86 224.00,266.96 219.90,271.06 215.80,266.96" fill="#555555" stroke="#1a1a1a" stroke-width="0.9"/>
<polygon points="253.05,252.10 257.15,256.20 253.05,260.30 248.95,256.20" fill="#555555" stroke="#1a1a1a" stroke-width="0.9"/>
<line x1="183.80" y1="329.90" x2="202.30" y2="329.90" stroke="#222" stroke-width="1.1"/>
<circle cx="193.50" cy="329.90" r="3.2" fill="#111" stroke="#111" stroke-width="0.6"/>
<line x1="183.80" y1="348.10" x2="202.30" y2="348.10" stroke="#666" stroke-width="1.1"/>
<polygon points="193.50,345.10 196.50,348.10 193.50,351.10 190.50,348.10" fill="#555555" stroke="#1a1a1a" stroke-width="0.9"/>
<text x="205.40" y="332.60" font-size="9.8" text-anchor="start" fill="#111">WT (3/40)</text>
<text x="205.40" y="350.80" font-size="10" text-anchor="start" fill="#111">ST3Gal-4</text>
<text x="246.20" y="342.40" font-size="7" text-anchor="start" fill="#111">-/-</text>
<text x="250.80" y="350.80" font-size="10" text-anchor="start" fill="#111">(3/10)</text>
<line x1="284.00" y1="255.60" x2="284.00" y2="357.40" stroke="#4a4a4a" stroke-width="1.15"/>
<line x1="281.20" y1="357.40" x2="283.70" y2="357.40" stroke="#222" stroke-width="1.1"/>
<line x1="281.20" y1="337.04" x2="283.70" y2="337.04" stroke="#222" stroke-width="1.1"/>
<line x1="281.20" y1="316.68" x2="283.70" y2="316.68" stroke="#222" stroke-width="1.1"/>
<line x1="281.20" y1="296.32" x2="283.70" y2="296.32" stroke="#222" stroke-width="1.1"/>
<line x1="281.20" y1="275.96" x2="283.70" y2="275.96" stroke="#222" stroke-width="1.1"/>
<line x1="281.20" y1="255.60" x2="283.70" y2="255.60" stroke="#222" stroke-width="1.1"/>
<line x1="284.00" y1="357.40" x2="380.70" y2="357.40" stroke="#4a4a4a" stroke-width="1.15"/>
<line x1="284.20" y1="357.70" x2="284.20" y2="360.20" stroke="#222" stroke-width="1.1"/>
<text x="284.20" y="372.60" font-size="9.8" text-anchor="middle" fill="#111">0</text>
<line x1="316.40" y1="357.70" x2="316.40" y2="360.20" stroke="#222" stroke-width="1.1"/>
<text x="316.40" y="372.60" font-size="9.8" text-anchor="middle" fill="#111">50</text>
<line x1="348.50" y1="357.70" x2="348.50" y2="360.20" stroke="#222" stroke-width="1.1"/>
<text x="348.50" y="372.60" font-size="9.8" text-anchor="middle" fill="#111">100</text>
<line x1="380.70" y1="357.70" x2="380.70" y2="360.20" stroke="#222" stroke-width="1.1"/>
<text x="380.70" y="372.60" font-size="9.8" text-anchor="middle" fill="#111">150</text>
<polyline points="284.00,306.30 313.70,306.30 313.70,357.40" fill="none" stroke="#2a2a2a" stroke-width="1.15"/>
<polyline points="283.30,357.40 289.75,356.38 296.20,350.27 302.65,336.02 309.10,316.68 315.55,297.34 322.00,275.96 328.45,266.80 334.90,259.67 341.35,256.62 347.80,253.26 354.25,253.26 360.70,253.26 367.15,253.26 373.60,253.26 380.05,253.26" fill="none" stroke="#111" stroke-width="1.0"/>
<circle cx="283.30" cy="357.40" r="3.2" fill="#111" stroke="#111" stroke-width="0.6"/>
<circle cx="289.75" cy="356.38" r="3.2" fill="#111" stroke="#111" stroke-width="0.6"/>
<circle cx="296.20" cy="350.27" r="3.2" fill="#111" stroke="#111" stroke-width="0.6"/>
<circle cx="302.65" cy="336.02" r="3.2" fill="#111" stroke="#111" stroke-width="0.6"/>
<circle cx="309.10" cy="316.68" r="3.2" fill="#111" stroke="#111" stroke-width="0.6"/>
<circle cx="315.55" cy="297.34" r="3.2" fill="#111" stroke="#111" stroke-width="0.6"/>
<circle cx="322.00" cy="275.96" r="3.2" fill="#111" stroke="#111" stroke-width="0.6"/>
<circle cx="328.45" cy="266.80" r="3.2" fill="#111" stroke="#111" stroke-width="0.6"/>
<circle cx="334.90" cy="259.67" r="3.2" fill="#111" stroke="#111" stroke-width="0.6"/>
<circle cx="341.35" cy="256.62" r="3.2" fill="#111" stroke="#111" stroke-width="0.6"/>
<circle cx="347.80" cy="253.26" r="3.2" fill="#111" stroke="#111" stroke-width="0.6"/>
<circle cx="354.25" cy="253.26" r="3.2" fill="#111" stroke="#111" stroke-width="0.6"/>
<circle cx="360.70" cy="253.26" r="3.2" fill="#111" stroke="#111" stroke-width="0.6"/>
<circle cx="367.15" cy="253.26" r="3.2" fill="#111" stroke="#111" stroke-width="0.6"/>
<circle cx="373.60" cy="253.26" r="3.2" fill="#111" stroke="#111" stroke-width="0.6"/>
<circle cx="380.05" cy="253.26" r="3.2" fill="#111" stroke="#111" stroke-width="0.6"/>
<polyline points="283.30,357.40 289.75,349.26 296.20,336.02 302.65,319.73 309.10,305.48 315.55,291.23 322.00,281.05 328.45,274.94 334.90,267.82 341.35,262.73 347.80,258.65 354.25,255.60 360.70,255.60 367.15,255.60 373.60,255.60 380.05,255.60" fill="none" stroke="#555" stroke-width="1.0"/>
<polygon points="283.30,353.30 287.40,357.40 283.30,361.50 279.20,357.40" fill="#8a8a8a" stroke="#1a1a1a" stroke-width="0.9"/>
<polygon points="289.75,345.16 293.85,349.26 289.75,353.36 285.65,349.26" fill="#8a8a8a" stroke="#1a1a1a" stroke-width="0.9"/>
<polygon points="296.20,331.92 300.30,336.02 296.20,340.12 292.10,336.02" fill="#8a8a8a" stroke="#1a1a1a" stroke-width="0.9"/>
<polygon points="302.65,315.63 306.75,319.73 302.65,323.83 298.55,319.73" fill="#8a8a8a" stroke="#1a1a1a" stroke-width="0.9"/>
<polygon points="309.10,301.38 313.20,305.48 309.10,309.58 305.00,305.48" fill="#8a8a8a" stroke="#1a1a1a" stroke-width="0.9"/>
<polygon points="315.55,287.13 319.65,291.23 315.55,295.33 311.45,291.23" fill="#8a8a8a" stroke="#1a1a1a" stroke-width="0.9"/>
<polygon points="322.00,276.95 326.10,281.05 322.00,285.15 317.90,281.05" fill="#8a8a8a" stroke="#1a1a1a" stroke-width="0.9"/>
<polygon points="328.45,270.84 332.55,274.94 328.45,279.04 324.35,274.94" fill="#8a8a8a" stroke="#1a1a1a" stroke-width="0.9"/>
<polygon points="334.90,263.72 339.00,267.82 334.90,271.92 330.80,267.82" fill="#8a8a8a" stroke="#1a1a1a" stroke-width="0.9"/>
<polygon points="341.35,258.63 345.45,262.73 341.35,266.83 337.25,262.73" fill="#8a8a8a" stroke="#1a1a1a" stroke-width="0.9"/>
<polygon points="347.80,254.55 351.90,258.65 347.80,262.75 343.70,258.65" fill="#8a8a8a" stroke="#1a1a1a" stroke-width="0.9"/>
<polygon points="354.25,251.50 358.35,255.60 354.25,259.70 350.15,255.60" fill="#8a8a8a" stroke="#1a1a1a" stroke-width="0.9"/>
<polygon points="360.70,251.50 364.80,255.60 360.70,259.70 356.60,255.60" fill="#8a8a8a" stroke="#1a1a1a" stroke-width="0.9"/>
<polygon points="367.15,251.50 371.25,255.60 367.15,259.70 363.05,255.60" fill="#8a8a8a" stroke="#1a1a1a" stroke-width="0.9"/>
<polygon points="373.60,251.50 377.70,255.60 373.60,259.70 369.50,255.60" fill="#8a8a8a" stroke="#1a1a1a" stroke-width="0.9"/>
<polygon points="380.05,251.50 384.15,255.60 380.05,259.70 375.95,255.60" fill="#8a8a8a" stroke="#1a1a1a" stroke-width="0.9"/>
<polyline points="283.30,357.40 289.75,354.35 296.20,323.81 302.65,311.59 309.10,292.25 315.55,280.03 322.00,270.87 328.45,266.80 334.90,265.78 341.35,257.64 347.80,255.60 354.25,255.60 360.70,255.60 367.15,255.60 373.60,255.60 380.05,255.60" fill="none" stroke="#111" stroke-width="0.8"/>
<polygon points="283.30,353.00 287.48,360.92 279.12,360.92" fill="#fff" stroke="#111" stroke-width="1.35"/>
<polygon points="289.75,349.95 293.93,357.87 285.57,357.87" fill="#fff" stroke="#111" stroke-width="1.35"/>
<polygon points="296.20,319.41 300.38,327.33 292.02,327.33" fill="#fff" stroke="#111" stroke-width="1.35"/>
<polygon points="302.65,307.19 306.83,315.11 298.47,315.11" fill="#fff" stroke="#111" stroke-width="1.35"/>
<polygon points="309.10,287.85 313.28,295.77 304.92,295.77" fill="#fff" stroke="#111" stroke-width="1.35"/>
<polygon points="315.55,275.63 319.73,283.55 311.37,283.55" fill="#fff" stroke="#111" stroke-width="1.35"/>
<polygon points="322.00,266.47 326.18,274.39 317.82,274.39" fill="#fff" stroke="#111" stroke-width="1.35"/>
<polygon points="328.45,262.40 332.63,270.32 324.27,270.32" fill="#fff" stroke="#111" stroke-width="1.35"/>
<polygon points="334.90,261.38 339.08,269.30 330.72,269.30" fill="#fff" stroke="#111" stroke-width="1.35"/>
<polygon points="341.35,253.24 345.53,261.16 337.17,261.16" fill="#fff" stroke="#111" stroke-width="1.35"/>
<polygon points="347.80,251.20 351.98,259.12 343.62,259.12" fill="#fff" stroke="#111" stroke-width="1.35"/>
<polygon points="354.25,251.20 358.43,259.12 350.07,259.12" fill="#fff" stroke="#111" stroke-width="1.35"/>
<polygon points="360.70,251.20 364.88,259.12 356.52,259.12" fill="#fff" stroke="#111" stroke-width="1.35"/>
<polygon points="367.15,251.20 371.33,259.12 362.97,259.12" fill="#fff" stroke="#111" stroke-width="1.35"/>
<polygon points="373.60,251.20 377.78,259.12 369.42,259.12" fill="#fff" stroke="#111" stroke-width="1.35"/>
<polygon points="380.05,251.20 384.23,259.12 375.87,259.12" fill="#fff" stroke="#111" stroke-width="1.35"/>
<circle cx="328.45" cy="266.80" r="3.2" fill="#111" stroke="#111" stroke-width="0.6"/>
<circle cx="334.90" cy="259.67" r="3.2" fill="#111" stroke="#111" stroke-width="0.6"/>
<line x1="308.20" y1="326.60" x2="326.00" y2="326.60" stroke="#777" stroke-width="1.1"/>
<circle cx="316.80" cy="326.60" r="3.4" fill="#111" stroke="#111" stroke-width="0.6"/>
<line x1="308.20" y1="338.80" x2="326.00" y2="338.80" stroke="#888" stroke-width="1.1"/>
<polygon points="317.00,335.90 319.90,338.80 317.00,341.70 314.10,338.80" fill="#8a8a8a" stroke="#1a1a1a" stroke-width="0.9"/>
<line x1="308.20" y1="350.80" x2="326.00" y2="350.80" stroke="#888" stroke-width="1.1"/>
<rect x="313.70" y="347.60" width="7" height="6.4" fill="#fff"/>
<path d="M317.30,348.00L319.60,353.50L314.40,353.50" fill="none" stroke="#111" stroke-width="1.2"/>
<text x="328.80" y="329.60" font-size="9.6" text-anchor="start" fill="#111">WT (3/87)</text>
<text x="328.80" y="343.00" font-size="9.5" text-anchor="start" fill="#111">ST3Gal-3<tspan font-size="3.8" font-weight="bold" dy="-4.6">-/-</tspan><tspan dy="4.6">(3/62)</tspan></text>
<text x="328.80" y="355.00" font-size="9.5" text-anchor="start" fill="#111">ST3Gal-6<tspan font-size="3.8" font-weight="bold" dy="-4.6">-/-</tspan><tspan dy="4.6"></tspan></text>
<text x="377.20" y="355.00" font-size="9.6" text-anchor="start" fill="#111">(3/57)</text>
<line x1="406.20" y1="256.20" x2="406.20" y2="358.70" stroke="#4a4a4a" stroke-width="1.15"/>
<line x1="403.40" y1="358.70" x2="405.90" y2="358.70" stroke="#222" stroke-width="1.1"/>
<line x1="403.40" y1="338.20" x2="405.90" y2="338.20" stroke="#222" stroke-width="1.1"/>
<line x1="403.40" y1="317.70" x2="405.90" y2="317.70" stroke="#222" stroke-width="1.1"/>
<line x1="403.40" y1="297.20" x2="405.90" y2="297.20" stroke="#222" stroke-width="1.1"/>
<line x1="403.40" y1="276.70" x2="405.90" y2="276.70" stroke="#222" stroke-width="1.1"/>
<line x1="403.40" y1="256.20" x2="405.90" y2="256.20" stroke="#222" stroke-width="1.1"/>
<line x1="406.20" y1="358.70" x2="511.70" y2="358.70" stroke="#4a4a4a" stroke-width="1.15"/>
<line x1="406.20" y1="359.00" x2="406.20" y2="361.50" stroke="#222" stroke-width="1.1"/>
<text x="406.20" y="372.60" font-size="9.8" text-anchor="middle" fill="#111">0</text>
<line x1="458.70" y1="359.00" x2="458.70" y2="361.50" stroke="#222" stroke-width="1.1"/>
<text x="458.70" y="372.60" font-size="9.8" text-anchor="middle" fill="#111">50</text>
<line x1="511.20" y1="359.00" x2="511.20" y2="361.50" stroke="#222" stroke-width="1.1"/>
<text x="511.20" y="372.60" font-size="9.8" text-anchor="middle" fill="#111">100</text>
<polyline points="406.20,307.30 426.50,307.30 426.50,358.70" fill="none" stroke="#2a2a2a" stroke-width="1.15"/>
<line x1="415.40" y1="307.30" x2="415.40" y2="358.70" stroke="#2a2a2a" stroke-width="1.15"/>
<polyline points="406.20,358.70 415.80,290.54 427.20,259.27 437.70,256.20 448.20,256.20 458.70,256.20 469.20,256.20 479.70,256.20 490.20,256.20 500.70,256.20" fill="none" stroke="#111" stroke-width="1.0"/>
<circle cx="406.20" cy="358.70" r="3.2" fill="#111" stroke="#111" stroke-width="0.6"/>
<circle cx="415.80" cy="290.54" r="3.2" fill="#111" stroke="#111" stroke-width="0.6"/>
<circle cx="427.20" cy="259.27" r="3.2" fill="#111" stroke="#111" stroke-width="0.6"/>
<circle cx="437.70" cy="256.20" r="3.2" fill="#111" stroke="#111" stroke-width="0.6"/>
<circle cx="448.20" cy="256.20" r="3.2" fill="#111" stroke="#111" stroke-width="0.6"/>
<circle cx="458.70" cy="256.20" r="3.2" fill="#111" stroke="#111" stroke-width="0.6"/>
<circle cx="469.20" cy="256.20" r="3.2" fill="#111" stroke="#111" stroke-width="0.6"/>
<circle cx="479.70" cy="256.20" r="3.2" fill="#111" stroke="#111" stroke-width="0.6"/>
<circle cx="490.20" cy="256.20" r="3.2" fill="#111" stroke="#111" stroke-width="0.6"/>
<circle cx="500.70" cy="256.20" r="3.2" fill="#111" stroke="#111" stroke-width="0.6"/>
<polyline points="405.30,358.70 416.70,337.18 427.20,301.30 437.70,291.36 448.20,270.86 458.70,259.48 469.20,259.48 479.70,259.48 490.20,259.48 500.70,259.48 511.20,256.20" fill="none" stroke="#444" stroke-width="1.0"/>
<polygon points="405.30,354.60 409.40,358.70 405.30,362.80 401.20,358.70" fill="#555555" stroke="#1a1a1a" stroke-width="0.9"/>
<polygon points="416.70,333.07 420.80,337.18 416.70,341.28 412.60,337.18" fill="#555555" stroke="#1a1a1a" stroke-width="0.9"/>
<polygon points="427.20,297.20 431.30,301.30 427.20,305.40 423.10,301.30" fill="#555555" stroke="#1a1a1a" stroke-width="0.9"/>
<polygon points="437.70,287.26 441.80,291.36 437.70,295.46 433.60,291.36" fill="#555555" stroke="#1a1a1a" stroke-width="0.9"/>
<polygon points="448.20,266.76 452.30,270.86 448.20,274.96 444.10,270.86" fill="#555555" stroke="#1a1a1a" stroke-width="0.9"/>
<polygon points="458.70,255.38 462.80,259.48 458.70,263.58 454.60,259.48" fill="#555555" stroke="#1a1a1a" stroke-width="0.9"/>
<polygon points="469.20,255.38 473.30,259.48 469.20,263.58 465.10,259.48" fill="#555555" stroke="#1a1a1a" stroke-width="0.9"/>
<polygon points="479.70,255.38 483.80,259.48 479.70,263.58 475.60,259.48" fill="#555555" stroke="#1a1a1a" stroke-width="0.9"/>
<polygon points="490.20,255.38 494.30,259.48 490.20,263.58 486.10,259.48" fill="#555555" stroke="#1a1a1a" stroke-width="0.9"/>
<polygon points="500.70,255.38 504.80,259.48 500.70,263.58 496.60,259.48" fill="#555555" stroke="#1a1a1a" stroke-width="0.9"/>
<polygon points="511.20,252.10 515.30,256.20 511.20,260.30 507.10,256.20" fill="#555555" stroke="#1a1a1a" stroke-width="0.9"/>
<line x1="427.50" y1="332.80" x2="445.50" y2="332.80" stroke="#222" stroke-width="1.1"/>
<circle cx="435.90" cy="332.80" r="3.2" fill="#111" stroke="#111" stroke-width="0.6"/>
<line x1="427.50" y1="348.90" x2="445.50" y2="348.90" stroke="#666" stroke-width="1.1"/>
<polygon points="435.90,345.90 438.90,348.90 435.90,351.90 432.90,348.90" fill="#555555" stroke="#1a1a1a" stroke-width="0.9"/>
<text x="446.70" y="336.00" font-size="9.6" text-anchor="start" fill="#111">WT (3/165)</text>
<text x="446.90" y="352.80" font-size="10" text-anchor="start" fill="#111">ST3Gal-4</text>
<text x="488.40" y="345.20" font-size="7" text-anchor="start" fill="#111">-/-</text>
<text x="492.40" y="352.80" font-size="10" text-anchor="start" fill="#111">(3/21)</text>
</svg></body></html>
